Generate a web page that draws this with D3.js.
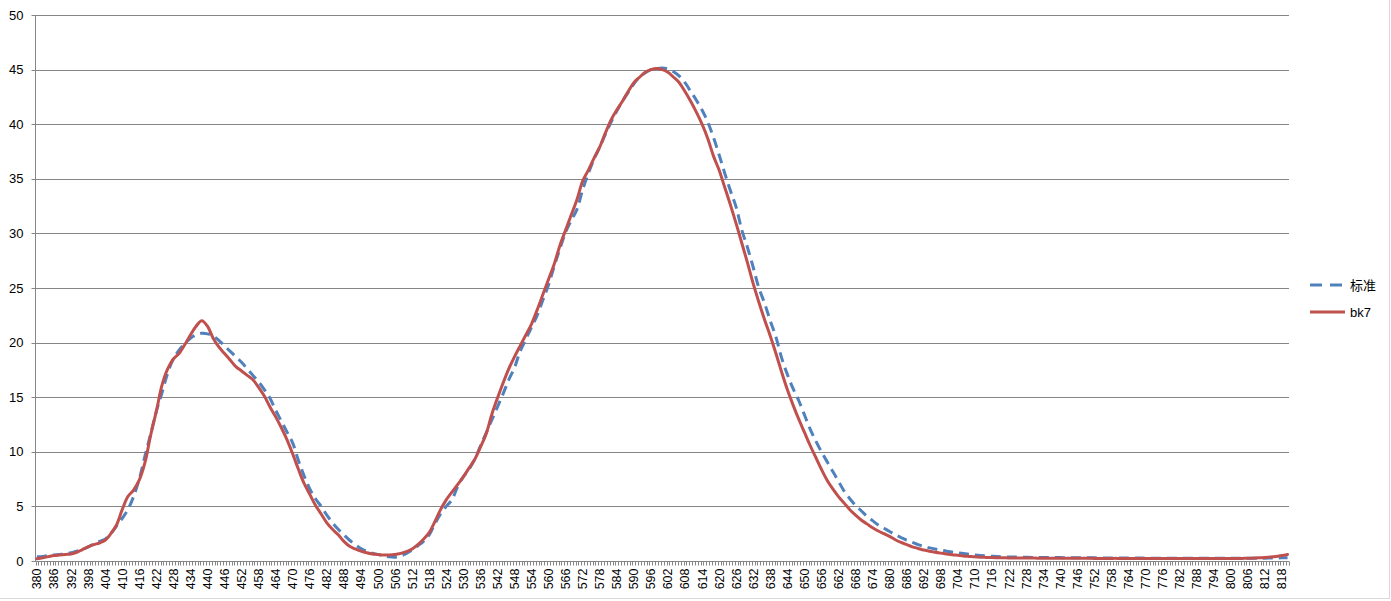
<!DOCTYPE html>
<html>
<head>
<meta charset="utf-8">
<script src="https://cdn.jsdelivr.net/npm/d3@7/dist/d3.min.js"></script>
<style>
  html, body { margin: 0; padding: 0; background: #fff; }
  svg { display: block; }
  text { font-family: "Liberation Sans", "DejaVu Sans", sans-serif; }
</style>
</head>
<body>
<svg id="chart" width="1391" height="601"></svg>
<script>
// ---- data ----
const categories = d3.range(380, 821, 1);          // category axis (nm)
const tickLabels = d3.range(380, 819, 6);          // labelled categories
const wavelengths = d3.range(380, 821, 2);         // sampled points
const yTicks = [0, 5, 10, 15, 20, 25, 30, 35, 40, 45, 50];
const seriesNames = ["标准", "bk7"];

const standard = [
  0.4,0.42,0.5,0.55,0.6,0.65,0.75,0.9,1.05,1.3,
  1.55,1.8,2.0,2.5,3.2,3.9,4.7,5.9,7.5,9.6,
  11.6,13.7,15.4,17.2,18.5,19.3,19.9,20.4,20.7,20.85,
  20.8,20.6,20.2,19.7,19.2,18.7,18.2,17.6,17.0,16.4,
  15.7,14.9,13.8,12.8,11.8,10.8,9.2,7.8,6.6,5.7,
  5.0,4.2,3.5,2.9,2.4,1.9,1.5,1.15,0.9,0.72,
  0.58,0.47,0.38,0.35,0.45,0.7,1.0,1.4,1.8,2.4,
  3.4,4.3,5.0,5.6,6.8,7.7,8.4,9.3,10.5,11.7,
  12.9,14.1,15.3,16.6,17.7,19.2,20.3,21.4,22.5,23.9,
  25.3,27.0,28.6,30.1,31.2,32.2,34.0,35.5,36.8,37.9,
  39.1,40.2,41.2,42.1,42.9,43.7,44.3,44.7,45.0,45.1,
  45.15,45.05,44.8,44.4,43.8,43.0,42.2,41.3,40.2,38.8,
  37.2,35.5,33.9,32.4,30.3,28.7,26.9,25.0,23.6,22.0,
  20.5,18.6,17.1,15.8,14.7,13.4,12.1,11.0,10.0,9.1,
  8.2,7.3,6.4,5.7,5.1,4.6,4.1,3.7,3.3,3.0,
  2.7,2.4,2.15,1.9,1.7,1.5,1.35,1.2,1.1,1.0,
  0.9,0.82,0.75,0.68,0.62,0.56,0.51,0.47,0.44,0.41,
  0.39,0.37,0.36,0.35,0.34,0.33,0.33,0.32,0.32,0.31,
  0.31,0.3,0.3,0.3,0.29,0.29,0.29,0.28,0.28,0.28,
  0.28,0.27,0.27,0.27,0.27,0.26,0.26,0.26,0.26,0.26,
  0.26,0.26,0.25,0.25,0.25,0.25,0.25,0.25,0.25,0.25,
  0.25,0.25,0.25,0.25,0.25,0.26,0.26,0.27,0.28,0.29,
  0.3
];

const bk7 = [
  0.2,0.3,0.4,0.5,0.55,0.6,0.65,0.8,1.05,1.3,
  1.5,1.65,1.9,2.5,3.3,4.7,5.9,6.5,7.4,9.0,
  11.5,13.7,16.1,17.6,18.5,19.0,19.8,20.7,21.5,22.0,
  21.5,20.4,19.6,19.0,18.4,17.8,17.4,17.0,16.6,15.9,
  15.1,14.1,13.2,12.2,11.1,9.8,8.4,7.1,6.1,5.1,
  4.3,3.5,2.9,2.4,1.8,1.35,1.1,0.9,0.75,0.65,
  0.6,0.55,0.55,0.6,0.7,0.85,1.1,1.5,2.0,2.6,
  3.6,4.7,5.6,6.3,7.0,7.7,8.5,9.3,10.4,11.6,
  13.4,14.9,16.3,17.6,18.7,19.7,20.7,21.7,23.0,24.4,
  25.8,27.2,28.9,30.3,31.7,33.1,34.8,35.8,36.9,37.9,
  39.2,40.4,41.3,42.1,43.0,43.8,44.3,44.75,45.0,45.1,
  45.0,44.75,44.3,43.8,43.0,42.1,41.1,40.0,38.7,37.1,
  35.8,34.2,32.6,30.9,29.1,27.3,25.4,23.7,22.1,20.6,
  19.0,17.3,15.7,14.3,13.0,11.8,10.6,9.5,8.4,7.4,
  6.6,5.9,5.3,4.7,4.2,3.75,3.4,3.05,2.75,2.5,
  2.25,1.95,1.7,1.5,1.3,1.15,1.0,0.9,0.8,0.72,
  0.65,0.58,0.52,0.46,0.42,0.38,0.35,0.33,0.31,0.3,
  0.29,0.28,0.28,0.27,0.27,0.27,0.26,0.26,0.26,0.26,
  0.26,0.26,0.25,0.25,0.25,0.25,0.24,0.24,0.24,0.24,
  0.24,0.23,0.23,0.23,0.23,0.23,0.23,0.23,0.22,0.22,
  0.22,0.22,0.22,0.22,0.22,0.22,0.22,0.22,0.22,0.22,
  0.23,0.23,0.24,0.25,0.27,0.29,0.32,0.36,0.42,0.5,
  0.6
];

const colors = ["#4F81BD", "#C0504D"];

// ---- layout ----
const svg = d3.select("#chart");
const W = 1391, H = 601;
const plot = { left: 35.5, right: 1289, top: 15, bottom: 561 };

// faint sheet frame
svg.append("rect").attr("x", 0).attr("y", 0).attr("width", W).attr("height", H).attr("fill", "#fff");
svg.append("line").attr("x1", 0).attr("x2", 1390).attr("y1", 598.5).attr("y2", 598.5).attr("stroke", "#d9d9d9");
svg.append("line").attr("x1", 1389.5).attr("x2", 1389.5).attr("y1", 0).attr("y2", 599).attr("stroke", "#d9d9d9");

const x = d3.scaleBand().domain(categories).range([plot.left, plot.right]).paddingInner(0).paddingOuter(0);
const y = d3.scaleLinear().domain([0, 50]).range([plot.bottom, plot.top]);
const cx = d => x(d) + x.bandwidth() / 2;

// gridlines + y axis
const yAxis = d3.axisLeft(y).tickValues(yTicks).tickSize(0).tickPadding(12).tickFormat(d3.format("d"));
const gy = svg.append("g").attr("transform", `translate(${plot.left},0)`).call(yAxis);
gy.select(".domain").remove();
gy.selectAll("text").attr("font-size", 13).attr("fill", "#000");
svg.append("g").selectAll("line").data(yTicks.filter(d => d > 0)).join("line")
  .attr("x1", plot.left - 4).attr("x2", plot.right)
  .attr("y1", d => Math.round(y(d)) + 0.5).attr("y2", d => Math.round(y(d)) + 0.5)
  .attr("stroke", "#868686").attr("stroke-width", 1);
// y axis line
svg.append("line").attr("x1", plot.left).attr("x2", plot.left).attr("y1", plot.top).attr("y2", plot.bottom + 0.5)
  .attr("stroke", "#868686");
svg.append("line").attr("x1", plot.left - 4).attr("x2", plot.left).attr("y1", Math.round(y(0)) + 0.5).attr("y2", Math.round(y(0)) + 0.5)
  .attr("stroke", "#868686");

// x axis
const gx = svg.append("g").attr("transform", `translate(0,${Math.round(plot.bottom) + 0.5})`);
gx.append("line").attr("x1", plot.left).attr("x2", plot.right).attr("stroke", "#868686");
const bounds = categories.map(c => x(c)).concat([plot.right]);
gx.selectAll("line.tk").data(bounds).join("line").attr("class", "tk")
  .attr("x1", d => Math.round(d) + 0.5).attr("x2", d => Math.round(d) + 0.5)
  .attr("y1", 0).attr("y2", 4).attr("stroke", "#868686");
gx.selectAll("text").data(tickLabels).join("text")
  .attr("transform", d => `translate(${cx(d) + 4.5},7) rotate(-90)`)
  .attr("text-anchor", "end")
  .attr("font-size", 12.5)
  .attr("fill", "#000")
  .text(d => d);

// lines
const line = d3.line().x((d, i) => cx(wavelengths[i])).y(d => y(d)).curve(d3.curveCatmullRom.alpha(0.5));
svg.append("path").datum(standard).attr("d", line)
  .attr("fill", "none").attr("stroke", colors[0]).attr("stroke-width", 3)
  .attr("stroke-dasharray", "10,6");
svg.append("path").datum(bk7).attr("d", line)
  .attr("fill", "none").attr("stroke", colors[1]).attr("stroke-width", 3)
  .attr("stroke-linejoin", "round").attr("stroke-linecap", "round");

// legend
const lg = svg.append("g").attr("transform", "translate(1310,0)");
const legendY = [285, 312];
seriesNames.forEach((n, i) => {
  lg.append("line").attr("x1", 0).attr("x2", 35).attr("y1", legendY[i]).attr("y2", legendY[i])
    .attr("stroke", colors[i]).attr("stroke-width", 3)
    .attr("stroke-dasharray", i === 0 ? "12,8" : null);
  lg.append("text").attr("x", 40).attr("y", legendY[i] + 5)
    .attr("font-size", 13).attr("fill", "#000")
    .style("font-family", i === 0 ? "'Noto Sans CJK SC', sans-serif" : null)
    .text(n);
});
</script>
</body>
</html>
